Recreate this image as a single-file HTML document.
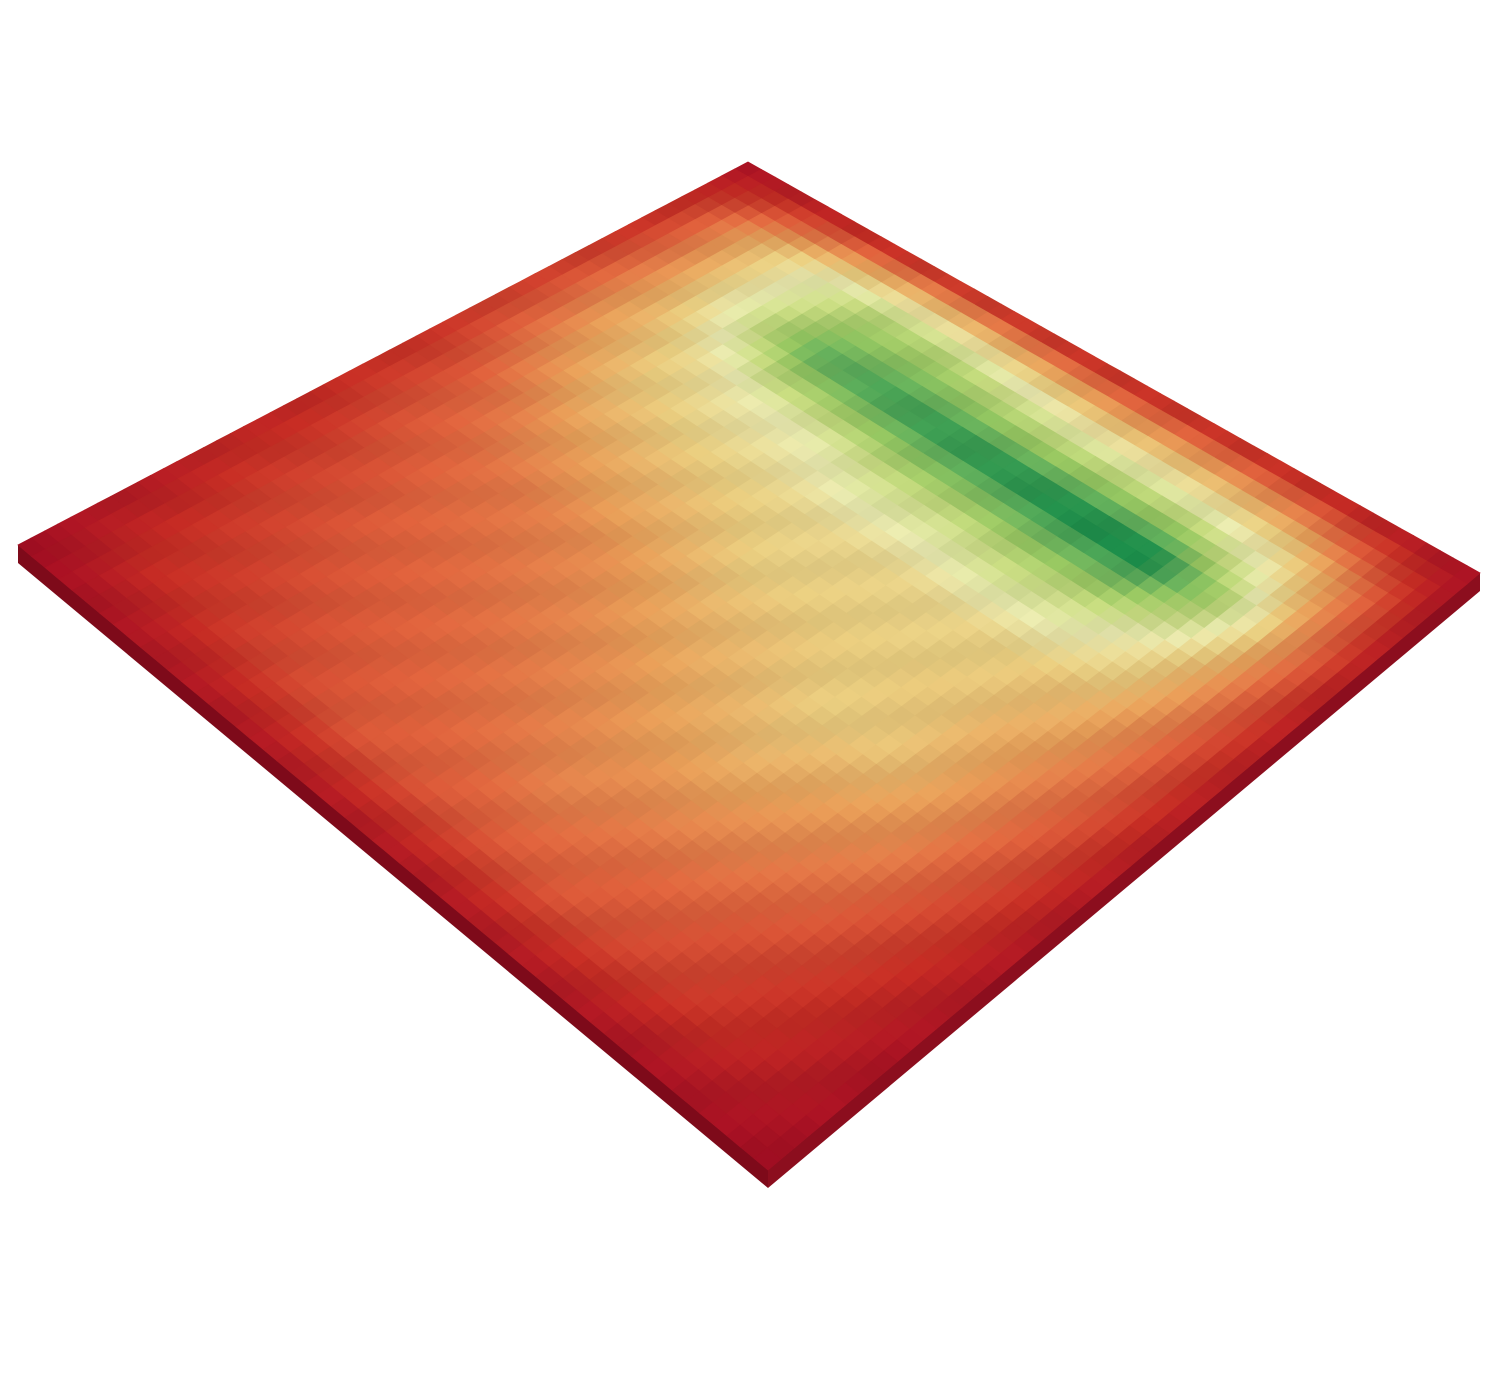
<!DOCTYPE html>
<html>
<head>
<meta charset="utf-8">
<style>
  html,body{margin:0;padding:0;background:#fff;}
  svg{display:block;}
</style>
</head>
<body>
<svg id="chart" width="1499" height="1397" viewBox="0 0 1499 1397" xmlns="http://www.w3.org/2000/svg">
  <g id="walls"></g>
  <g id="surface"></g>
</svg>
<script>
// Surface values (rows from back/top-right edge toward front/left-bottom edge)
const row0  = [0.04,0.05,0.06,0.07,0.07,0.07,0.07,0.07,0.07,0.06,0.05,0.04];
const row1  = [0.08,0.30,0.50,0.62,0.62,0.55,0.50,0.50,0.48,0.42,0.25,0.05];
const row2  = [0.10,0.30,0.55,0.80,0.85,0.88,0.90,0.92,0.93,0.68,0.30,0.06];
const row3  = [0.12,0.30,0.42,0.50,0.52,0.58,0.58,0.62,0.58,0.45,0.25,0.06];
const row4  = [0.12,0.26,0.36,0.40,0.42,0.43,0.42,0.42,0.40,0.35,0.22,0.06];
const row5  = [0.10,0.20,0.28,0.32,0.35,0.40,0.40,0.40,0.38,0.30,0.20,0.06];
const row6  = [0.10,0.18,0.22,0.25,0.28,0.33,0.36,0.40,0.38,0.28,0.18,0.05];
const row7  = [0.08,0.15,0.20,0.22,0.25,0.28,0.32,0.35,0.30,0.25,0.15,0.05];
const row8  = [0.08,0.14,0.18,0.20,0.22,0.25,0.28,0.28,0.25,0.20,0.12,0.05];
const row9  = [0.06,0.12,0.15,0.18,0.20,0.22,0.25,0.22,0.20,0.15,0.10,0.04];
const row10 = [0.05,0.10,0.12,0.15,0.18,0.18,0.18,0.18,0.15,0.12,0.08,0.04];
const row11 = [0.03,0.04,0.05,0.05,0.05,0.05,0.05,0.05,0.05,0.04,0.04,0.03];
const values = [row0,row1,row2,row3,row4,row5,row6,row7,row8,row9,row10,row11];

const cmapStops = ['#a50026','#d73027','#f46d43','#fdae61','#fee08b','#ffffbf','#d9ef8b','#a6d96a','#66bd63','#1a9850','#006837'];

const T=[748,162], R=[1480,573], B=[768,1170], L=[18,545];
function proj(u,v){
  return [
    (1-u)*(1-v)*T[0]+u*(1-v)*R[0]+u*v*B[0]+(1-u)*v*L[0],
    (1-u)*(1-v)*T[1]+u*(1-v)*R[1]+u*v*B[1]+(1-u)*v*L[1]
  ];
}
function hex(h){return [parseInt(h.substr(1,2),16),parseInt(h.substr(3,2),16),parseInt(h.substr(5,2),16)];}
function cmap(t,shade){
  t=Math.max(0,Math.min(1,t));
  const p=t*(cmapStops.length-1), i=Math.min(cmapStops.length-2,Math.floor(p)), f=p-i;
  const a=hex(cmapStops[i]), b=hex(cmapStops[i+1]);
  return 'rgb('+a.map((c,k)=>Math.round((c+(b[k]-c)*f)*shade)).join(',')+')';
}
const nR=values.length, nC=values[0].length;
function val(r,c){
  const r0=Math.min(nR-2,Math.floor(r)), c0=Math.min(nC-2,Math.floor(c));
  const fr=r-r0, fc=c-c0;
  return (1-fr)*(1-fc)*values[r0][c0]+(1-fr)*fc*values[r0][c0+1]+fr*(1-fc)*values[r0+1][c0]+fr*fc*values[r0+1][c0+1];
}
const NS='http://www.w3.org/2000/svg';
const surf=document.getElementById('surface');
const sub=5, NR=(nR-1)*sub, NC=(nC-1)*sub;
for(let i=0;i<NR;i++){
  for(let j=0;j<NC;j++){
    const v0=i/NR, v1=(i+1)/NR, u0=j/NC, u1=(j+1)/NC;
    const pts=[proj(u0,v0),proj(u1,v0),proj(u1,v1),proj(u0,v1)];
    const z=val((i+0.5)/sub,(j+0.5)/sub);
    const shade=0.9+0.03*Math.sin(i*0.9+j*1.3);
    const col=cmap(z,shade);
    const p=document.createElementNS(NS,'polygon');
    p.setAttribute('points',pts.map(q=>q[0].toFixed(1)+','+q[1].toFixed(1)).join(' '));
    p.setAttribute('fill',col);
    p.setAttribute('stroke',col);
    p.setAttribute('stroke-width','0.8');
    
    
    surf.appendChild(p);
  }
}
const walls=document.getElementById('walls');
function wall(a,b,col){
  const p=document.createElementNS(NS,'polygon');
  p.setAttribute('points',[a,b,[b[0],b[1]+18],[a[0],a[1]+18]].map(q=>q.join(',')).join(' '));
  p.setAttribute('fill',col);
  
  
  walls.appendChild(p);
}
wall(L,B,'#7e0a1a');
wall(B,R,'#8c0e1e');
</script>
</body>
</html>
